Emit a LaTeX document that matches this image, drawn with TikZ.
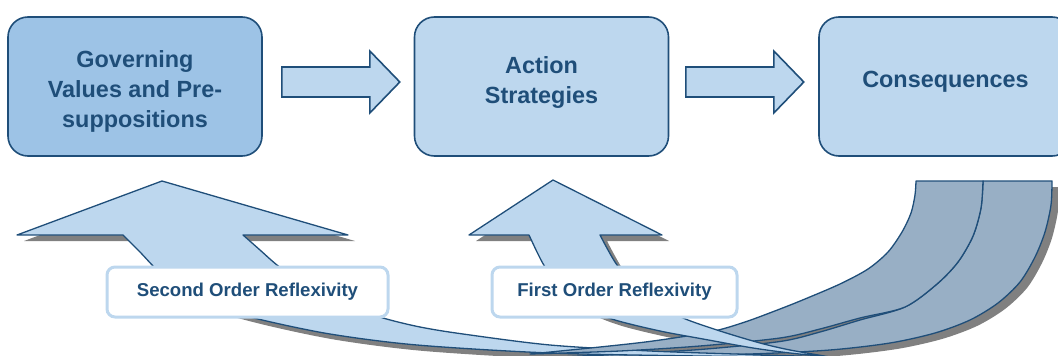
\documentclass[tikz,border=0pt]{standalone}
\usepackage{fontspec}
\setmainfont{Liberation Sans}
\usetikzlibrary{calc}

\definecolor{edge}{HTML}{1F4E79}
\definecolor{paleblue}{HTML}{BDD7EE}
\definecolor{midblue}{HTML}{9DC3E6}
\definecolor{tailblue}{HTML}{98AFC5}
\definecolor{shade}{HTML}{808080}

% Outlines of the two curved feedback arrows (pixel-like units, y down)
\newcommand\secondTail{%
  plot[smooth] coordinates {(1052,181) (1051,205) (1045,232) (1035,257) (1020,282) (998,303) (970,320) (935,333) (890,343) (830,350) (750,354) (650,356) (560,357)}
  -- plot[smooth] coordinates {(560,357) (620,354) (700,349.5) (780,341.5) (820,332) (860,320) (905,307) (937,284) (958,262) (973,236) (981,208) (983,181)}
  -- cycle}
\newcommand\secondShaft{%
  (123,235) -- (17,235) -- (162,181) -- (348,235) -- (243,235)
  -- plot[smooth] coordinates {(243,235) (260,250) (277,265) (305,286) (340,304) (383,318) (420,327) (463,334) (550,345) (650,351) (750,354.5) (830,357)}
  -- plot[smooth] coordinates {(830,357) (700,356) (550,353) (417,345) (330,334) (258,319) (205,304) (175,287) (155,268) (140,252) (123,235)}
  -- cycle}
\newcommand\firstTail{%
  plot[smooth] coordinates {(983,181) (981,208) (973,236) (958,262) (937,284) (905,307) (860,318) (820,329) (780,338) (700,346) (620,351) (530,354)}
  -- plot[smooth] coordinates {(530,354) (600,347) (653,341) (710,332) (745,322) (780,309) (805,299) (840,284) (868,269) (888,252) (902,232) (911,213) (915,195) (916,181)}
  -- cycle}
\newcommand\firstShaft{%
  (529,235) -- (469,235) -- (553,180) -- (662,235) -- (600,235)
  -- plot[smooth] coordinates {(600,235) (608,250) (617,265) (632,283) (655,303) (683,318) (720,331) (760,343) (790,350) (830,357)}
  -- plot[smooth] coordinates {(830,357) (790,353) (753,348) (703,339) (660,331) (615,320) (585,308) (560,288) (545,267) (537,252) (529,235)}
  -- cycle}

\tikzset{
  box/.style={draw=edge, line width=1.6pt, rounded corners=20pt,
    minimum width=254pt, minimum height=139pt, inner sep=0pt},
  boxtext/.style={text=edge, align=center, inner sep=0pt,
    font=\fontsize{23.4}{30}\selectfont\bfseries},
  tag/.style={draw=paleblue, line width=3pt, fill=white, rounded corners=8pt,
    minimum height=50pt, inner sep=0pt, text=edge,
    font=\fontsize{18.6}{22}\selectfont\bfseries},
  arrowbody/.style={draw=edge, fill=paleblue, line width=1.6pt, line join=miter},
  flowarrow/.pic={\path[arrowbody] (0,-15) -- (88,-15) -- (88,-31) -- (118,0)
    -- (88,31) -- (88,15) -- (0,15) -- cycle;},
  swoosh/.style={draw=edge, line width=1.3pt, line join=round},
  shadowcopy/.style={fill=shade, shift={(7,6)}},
}

\begin{document}
\begin{tikzpicture}[x=1pt, y=-1pt]
\useasboundingbox (0,0) rectangle (1058,356);
\clip (0,0) rectangle (1058,356);

% drop shadows of the feedback arrows
\path[shadowcopy] \secondTail;
\path[shadowcopy] \secondShaft;
\path[shadowcopy] \firstTail;
\path[shadowcopy] \firstShaft;

% second order loop (outer)
\path[swoosh, fill=tailblue] \secondTail;
\path[swoosh, fill=paleblue] \secondShaft;
% first order loop (inner)
\path[swoosh, fill=tailblue] \firstTail;
\path[swoosh, fill=paleblue] \firstShaft;

% loop labels
\node[tag, minimum width=281pt] (secondtag) at (247.5,292) {Second Order Reflexivity};
\node[tag, minimum width=245pt] (firsttag) at (614.5,292) {First Order Reflexivity};

% main chain
\node[box, fill=midblue] (gov) at (135,86.5) {};
\node[box, fill=paleblue] (act) at (541.5,86.5) {};
\node[box, fill=paleblue, minimum width=253pt] (cons) at (945.5,86.5) {};

\node[boxtext] (govtext) at ($(gov.center)+(0,5)$) {Governing\\Values and Pre-\\suppositions};
\node[boxtext] (acttext) at ($(act.center)+(0,-3.6)$) {Action\\Strategies};
\node[boxtext] (constext) at ($(cons.center)+(0,-4.3)$) {Consequences};

\pic at ($(gov.east)+(19,-4.5)$) {flowarrow};
\pic at ($(act.east)+(16.5,-4.5)$) {flowarrow};
\end{tikzpicture}
\end{document}
